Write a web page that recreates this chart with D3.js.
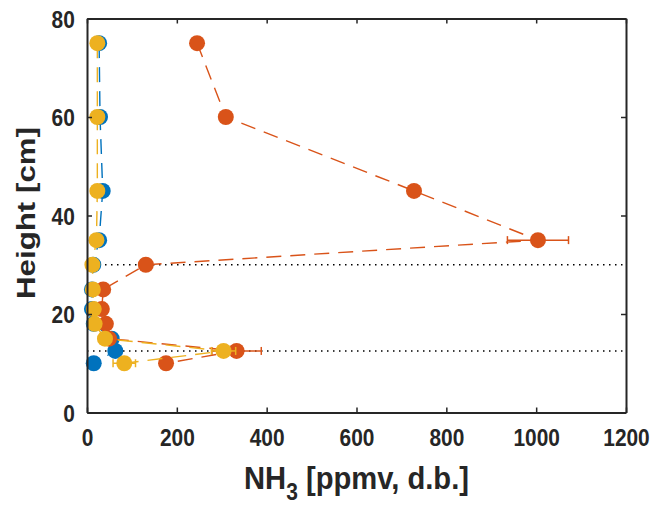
<!DOCTYPE html>
<html>
<head>
<meta charset="utf-8">
<script src="https://cdn.jsdelivr.net/npm/d3@7"></script>
<style>
  html, body { margin: 0; padding: 0; background: #fff; }
  svg text { font-family: "Liberation Sans", Arial, sans-serif; font-weight: bold; fill: #262626; }
</style>
</head>
<body>
<svg id="chart" width="658" height="505"></svg>
<script>
// Sampling heights [cm] shared by all three profiles
const heights = [75, 60, 45, 35, 30, 25, 21, 18, 15, 12.5, 10];

// NH3 concentration [ppmv, d.b.] per profile, in the order of `heights`
const seriesBlue   = [27, 29, 35, 27, 14, 11, 11, 15, 55, 63, 15];
const seriesOrange = [245, 309, 728, 1004, 131, 36, 33, 42, 49, 333, 176];
const seriesYellow = [23, 23, 23, 21, 12, 13, 15, 17, 40, 304, 83];

// Horizontal error (±) per profile, in the order of `heights`
const errBlue   = [0, 0, 0, 0, 0, 0, 0, 0, 0, 0, 0];
const errOrange = [0, 0, 0, 68, 0, 0, 0, 0, 0, 55, 0];
const errYellow = [0, 0, 0, 0, 0, 0, 0, 0, 0, 27, 25];

// Reference heights marked with dotted lines
const refHeights = [30, 12.5];

// Axis ticks
const xTicks = [0, 200, 400, 600, 800, 1000, 1200];
const yTicks = [0, 20, 40, 60, 80];

const colors = ["#0072BD", "#D95319", "#EDB120"];
const series = [
  { values: seriesBlue,   err: errBlue,   color: colors[0] },
  { values: seriesOrange, err: errOrange, color: colors[1] },
  { values: seriesYellow, err: errYellow, color: colors[2] }
];

const svg = d3.select("#chart");
const mLeft = 87, mRight = 626, mTop = 18.5, mBottom = 412.5;

const x = d3.scaleLinear().domain([0, 1200]).range([mLeft, mRight]);
const y = d3.scaleLinear().domain([0, 80]).range([mBottom, mTop]);

const plot = svg.append("g");

// Dotted reference lines
plot.selectAll("line.ref").data(refHeights).join("line")
  .attr("class", "ref")
  .attr("x1", x(0)).attr("x2", x(1200))
  .attr("y1", d => y(d)).attr("y2", d => y(d))
  .attr("stroke", "#000").attr("stroke-width", 1.5)
  .attr("stroke-dasharray", "1.5,4.5");

const line = d3.line().x(d => x(d.v)).y(d => y(d.h));

series.forEach(s => {
  const pts = heights.map((h, i) => ({ h, v: s.values[i], e: s.err[i] }));
  const g = plot.append("g");

  g.append("path").datum(pts)
    .attr("d", line)
    .attr("fill", "none")
    .attr("stroke", s.color)
    .attr("stroke-width", 1.4)
    .attr("stroke-dasharray", "15,9");

  const eb = g.selectAll("g.eb").data(pts.filter(p => p.e > 0)).join("g").attr("class", "eb");
  eb.append("line")
    .attr("x1", d => x(d.v - d.e)).attr("x2", d => x(d.v + d.e))
    .attr("y1", d => y(d.h)).attr("y2", d => y(d.h))
    .attr("stroke", s.color).attr("stroke-width", 1.5);
  [-1, 1].forEach(sign => {
    eb.append("line")
      .attr("x1", d => x(d.v + sign * d.e)).attr("x2", d => x(d.v + sign * d.e))
      .attr("y1", d => y(d.h) - 4).attr("y2", d => y(d.h) + 4)
      .attr("stroke", s.color).attr("stroke-width", 1.5);
  });

  g.selectAll("circle").data(pts).join("circle")
    .attr("cx", d => x(d.v)).attr("cy", d => y(d.h))
    .attr("r", 8)
    .attr("fill", s.color);
});

// Axes: box with inward ticks on all four sides
const axisColor = "#262626";
const fmt = d3.format("d");

const xAxisB = svg.append("g").attr("transform", `translate(0,${mBottom})`)
  .call(d3.axisBottom(x).tickValues(xTicks).tickFormat(fmt).tickSizeInner(-5).tickSizeOuter(0).tickPadding(16));
const xAxisT = svg.append("g").attr("transform", `translate(0,${mTop})`)
  .call(d3.axisTop(x).tickValues(xTicks).tickFormat("").tickSizeInner(-5).tickSizeOuter(0));
const yAxisL = svg.append("g").attr("transform", `translate(${mLeft},0)`)
  .call(d3.axisLeft(y).tickValues(yTicks).tickFormat(fmt).tickSizeInner(-5).tickSizeOuter(0).tickPadding(14));
const yAxisR = svg.append("g").attr("transform", `translate(${mRight},0)`)
  .call(d3.axisRight(y).tickValues(yTicks).tickFormat("").tickSizeInner(-5).tickSizeOuter(0));

[xAxisB, xAxisT, yAxisL, yAxisR].forEach(a => {
  a.select(".domain").attr("stroke", axisColor).attr("stroke-width", 2);
  a.selectAll(".tick line").attr("stroke", axisColor).attr("stroke-width", 1.5);
  a.selectAll("text").attr("font-size", 24).attr("fill", axisColor)
    .style("font-family", "'Liberation Sans', Arial, sans-serif")
    .style("font-weight", "bold");
});
// slightly condensed tick digits
xAxisB.selectAll(".tick text").attr("transform", "scale(0.87,1)");
yAxisL.selectAll(".tick text").attr("transform", "scale(0.87,1)").attr("dy", "0.36em");

// Axis titles (fitted to their target widths)
const xtG = svg.append("g").attr("transform", `translate(${(mLeft + mRight) / 2},489)`);
const xt = xtG.append("text").attr("text-anchor", "middle").attr("font-size", 32);
xt.append("tspan").text("NH");
xt.append("tspan").attr("dy", 11).attr("font-size", 23).text("3");
xt.append("tspan").attr("dy", -11).text(" [ppmv, d.b.]");
const xtW = xt.node().getBBox().width;
xt.attr("transform", `scale(${225 / xtW},1)`);

const ytG = svg.append("g").attr("transform", `translate(35,213) rotate(-90)`);
const yt = ytG.append("text").attr("text-anchor", "middle").attr("font-size", 25).text("Height [cm]");
const ytW = yt.node().getBBox().width;
yt.attr("transform", `scale(${172 / ytW},1)`);
</script>
</body>
</html>
